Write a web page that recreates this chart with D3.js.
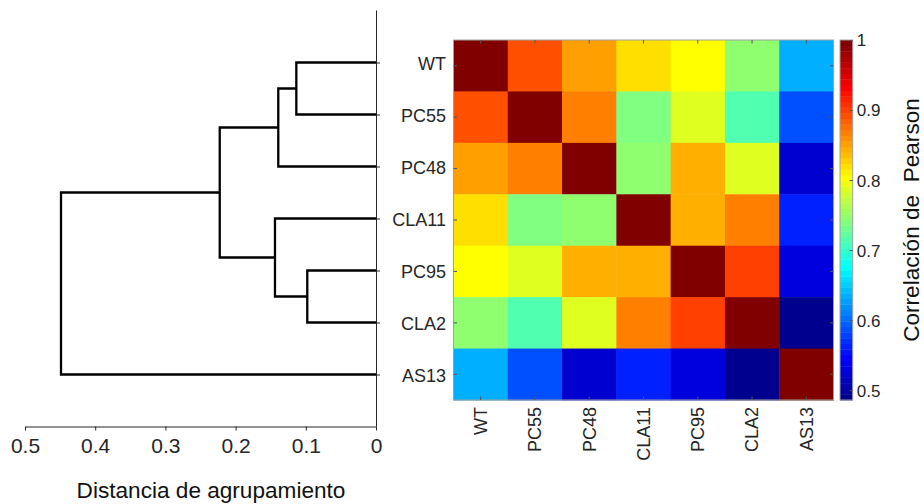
<!DOCTYPE html>
<html>
<head>
<meta charset="utf-8">
<script src="https://cdn.jsdelivr.net/npm/d3@7"></script>
<style>
  html, body { margin: 0; padding: 0; background: #fff; }
  svg { display: block; font-family: "Liberation Sans", Arial, Helvetica, sans-serif; }
</style>
</head>
<body>
<svg id="chart" width="924" height="504"></svg>
<script>
// Sample names, in dendrogram leaf order (top to bottom)
const samples = ["WT", "PC55", "PC48", "CLA11", "PC95", "CLA2", "AS13"];

// Pearson correlation matrix (rows/cols follow `samples`)
const corrWT    = [1.000, 0.891, 0.851, 0.816, 0.803, 0.747, 0.638];
const corrPC55  = [0.891, 1.000, 0.868, 0.740, 0.790, 0.715, 0.585];
const corrPC48  = [0.851, 0.868, 1.000, 0.747, 0.843, 0.788, 0.523];
const corrCLA11 = [0.816, 0.740, 0.747, 1.000, 0.843, 0.868, 0.562];
const corrPC95  = [0.803, 0.790, 0.843, 0.843, 1.000, 0.900, 0.533];
const corrCLA2  = [0.747, 0.715, 0.788, 0.868, 0.900, 1.000, 0.486];
const corrAS13  = [0.638, 0.585, 0.523, 0.562, 0.533, 0.486, 1.000];
const corrRows = [corrWT, corrPC55, corrPC48, corrCLA11, corrPC95, corrCLA2, corrAS13];

// Hierarchical clustering linkage: [child A, child B, distance]
// indices 0..6 are leaves, merge k creates node 7 + k
const linkage = [
  [0, 1, 0.1135],
  [7, 2, 0.1392],
  [4, 5, 0.0979],
  [3, 9, 0.1439],
  [8, 10, 0.2226],
  [11, 6, 0.4487]
];

const distTicks = [0.5, 0.4, 0.3, 0.2, 0.1, 0];
const colorTicks = [0.5, 0.6, 0.7, 0.8, 0.9, 1];

// MATLAB-style jet(64) colormap
function jetMap(m) {
  const n = Math.ceil(m / 4);
  const u = [];
  for (let i = 1; i <= n; i++) u.push(i / n);
  for (let i = 1; i < n; i++) u.push(1);
  for (let i = n; i >= 1; i--) u.push(i / n);
  const g0 = Math.ceil(n / 2) - (m % 4 === 1 ? 1 : 0);
  const cmap = Array.from({length: m}, () => [0, 0, 0]);
  u.forEach((val, j) => {
    const g = g0 + j + 1, r = g + n, b = g - n;
    if (g >= 1 && g <= m) cmap[g - 1][1] = val;
    if (r >= 1 && r <= m) cmap[r - 1][0] = val;
    if (b >= 1 && b <= m) cmap[b - 1][2] = val;
  });
  return cmap.map(c => d3.rgb(c[0] * 255, c[1] * 255, c[2] * 255).formatHex());
}
const jet = jetMap(64);

const cMin = d3.min(corrRows, r => d3.min(r));
const cMax = d3.max(corrRows, r => d3.max(r));
const colorIndex = d3.scaleQuantize().domain([cMin, cMax]).range(d3.range(64));
const colorOf = v => jet[colorIndex(v)];

const svg = d3.select("#chart");
const tickColor = "#262626";

// ---------- Dendrogram ----------
const xDist = d3.scaleLinear().domain([0, 0.5]).range([376, 25]);
const yLeaf = d3.scalePoint().domain(samples).range([10.5, 426.5]).padding(1);
const axisY = 426.5;

const dendro = svg.append("g");

// node positions
const nodes = samples.map(s => ({x: 0, y: yLeaf(s)}));
linkage.forEach(([a, b, h]) => {
  nodes.push({x: h, y: (nodes[a].y + nodes[b].y) / 2});
});

// bottom axis
const xAxis = d3.axisBottom(xDist)
  .tickValues(distTicks)
  .tickFormat(d => d === 0 ? "0" : d3.format(".1f")(d))
  .tickSize(4)
  .tickSizeOuter(0);
const gx = dendro.append("g").attr("transform", `translate(0,${axisY})`).call(xAxis);
gx.select(".domain").attr("stroke", tickColor);
gx.selectAll(".tick line").attr("stroke", tickColor);
gx.selectAll(".tick text")
  .attr("y", 26).attr("dy", 0)
  .attr("fill", tickColor)
  .style("font-size", "21px");

// right axis with leaf labels
const yAxis = d3.axisRight(yLeaf).tickSize(4).tickSizeOuter(0);
const gy = dendro.append("g").attr("transform", `translate(${xDist(0)},0)`).call(yAxis);
gy.select(".domain").attr("stroke", tickColor).attr("d", `M0.5,10.5V${axisY}`);
gy.selectAll(".tick line").attr("stroke", tickColor);
gy.selectAll(".tick text")
  .attr("x", 70).attr("dy", "0.35em").attr("y", 1)
  .attr("text-anchor", "end")
  .attr("fill", tickColor)
  .style("font-size", "18px");

// U-shaped links
const links = linkage.map(([a, b, h]) => {
  const A = nodes[a], B = nodes[b];
  return `M${xDist(A.x)},${A.y}H${xDist(h)}V${B.y}H${xDist(B.x)}`;
});
dendro.append("g").selectAll("path").data(links).join("path")
  .attr("d", d => d)
  .attr("fill", "none")
  .attr("stroke", "#000")
  .attr("stroke-width", 2.3)
  .attr("stroke-linejoin", "miter");

// axis title
dendro.append("text")
  .attr("x", 211).attr("y", 498)
  .attr("text-anchor", "middle")
  .attr("fill", "#111")
  .style("font-size", "22.6px")
  .text("Distancia de agrupamiento");

// ---------- Heatmap ----------
const hx = d3.scaleBand().domain(samples).range([453.5, 833.5]);
const hy = d3.scaleBand().domain(samples).range([40, 400]);
const heat = svg.append("g");

const cells = [];
corrRows.forEach((row, i) => row.forEach((v, j) => cells.push({r: samples[i], c: samples[j], v})));

heat.selectAll("rect.cell").data(cells).join("rect")
  .attr("class", "cell")
  .attr("x", d => hx(d.c))
  .attr("y", d => hy(d.r))
  .attr("width", hx.bandwidth() + 0.5)
  .attr("height", hy.bandwidth() + 0.5)
  .attr("fill", d => colorOf(d.v));

// frame and inward ticks
heat.append("rect")
  .attr("x", 453.5).attr("y", 40)
  .attr("width", 380).attr("height", 360)
  .attr("fill", "none").attr("stroke", "#a0a0a0").attr("stroke-width", 1);

const tk = 3.5;
const tickPaths = [];
samples.forEach(s => {
  const cx = hx(s) + hx.bandwidth() / 2, cy = hy(s) + hy.bandwidth() / 2;
  tickPaths.push(`M${cx},40v${tk}`, `M${cx},400v${-tk}`);
  tickPaths.push(`M453.5,${cy}h${tk}`, `M833.5,${cy}h${-tk}`);
});
heat.append("path").attr("d", tickPaths.join("")).attr("stroke", "#555").attr("stroke-width", 1);

// rotated column labels
heat.selectAll("text.col").data(samples).join("text")
  .attr("class", "col")
  .attr("transform", d => `translate(${hx(d) + hx.bandwidth() / 2},407) rotate(-90)`)
  .attr("dy", "0.35em")
  .attr("text-anchor", "end")
  .attr("fill", tickColor)
  .style("font-size", "18px")
  .text(d => d);

// ---------- Colorbar ----------
const cb = svg.append("g");
const cbX = 840, cbW = 12.7;
const yColor = d3.scaleLinear().domain([cMin, cMax]).range([400, 40]);
const bandVals = d3.range(64).map(k => cMin + (k + 0.5) * (cMax - cMin) / 64);
const bandH = 360 / 64;
cb.selectAll("rect.band").data(bandVals).join("rect")
  .attr("class", "band")
  .attr("x", cbX)
  .attr("y", d => yColor(d) - bandH / 2)
  .attr("width", cbW)
  .attr("height", bandH + 0.4)
  .attr("fill", d => colorOf(d));
cb.append("rect")
  .attr("x", cbX).attr("y", 40).attr("width", cbW).attr("height", 360)
  .attr("fill", "none").attr("stroke", "#a0a0a0").attr("stroke-width", 1);

const cAxis = d3.axisRight(yColor)
  .tickValues(colorTicks)
  .tickFormat(d => d === 1 ? "1" : d3.format(".1f")(d))
  .tickSize(-3)
  .tickSizeOuter(0);
const gc = cb.append("g").attr("transform", `translate(${cbX + cbW},0)`).call(cAxis);
gc.select(".domain").remove();
gc.selectAll(".tick line").attr("stroke", "#555");
gc.selectAll(".tick text")
  .attr("x", 4).attr("dy", "0.35em")
  .attr("fill", tickColor)
  .style("font-size", "17px");

cb.append("text")
  .attr("transform", "translate(919,220) rotate(-90)")
  .attr("text-anchor", "middle")
  .attr("fill", "#111")
  .style("font-size", "22.6px")
  .style("white-space", "pre")
  .text("Correlación de  Pearson");
</script>
</body>
</html>
